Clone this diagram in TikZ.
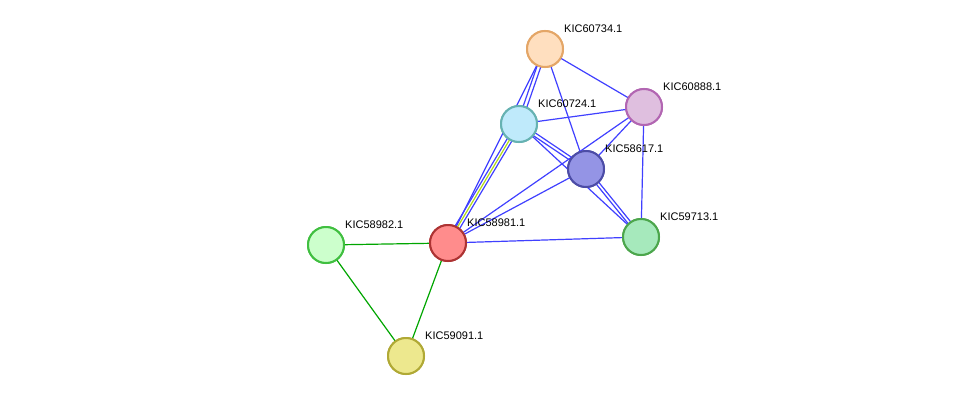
\documentclass[tikz,border=0pt]{standalone}
\usepackage{fontspec}
\setmainfont{Liberation Sans}
\begin{document}
\begin{tikzpicture}[x=1pt,y=-1pt,
  nd/.style={circle,minimum size=36pt,inner sep=0pt,line width=2pt},
  lb/.style={font=\fontsize{11}{11}\selectfont,anchor=south west,inner sep=0pt},
  be/.style={draw=blue!75!white,line width=1.2pt},
  ge/.style={draw=green!65!black,line width=1.2pt}]
\useasboundingbox[fill=white] (0,0) rectangle (976,402);
\node[nd,draw=brown!60!orange!70,fill=orange!25] (a) at (545,49) {};
\node[nd,draw=violet!60,fill=violet!25] (b) at (644,107) {};
\node[nd,draw=teal!60,fill=cyan!25] (c) at (519,124) {};
\node[nd,draw=blue!50!black!70,fill=blue!40!white!80!gray] (d) at (586,169) {};
\node[nd,draw=green!50!black!70,fill=green!50!teal!35] (e) at (641,237) {};
\node[nd,draw=red!60!black!80,fill=red!45] (f) at (448,243) {};
\node[nd,draw=green!50!gray,fill=green!20] (g) at (326,245) {};
\node[nd,draw=olive!70,fill=olive!40!yellow!40] (h) at (406,356) {};
\begin{scope}[on background layer/.try]
\end{scope}
\begin{pgfonlayer}{main}\end{pgfonlayer}
\draw[be] ([xshift=-2]a.center) -- ([xshift=-2]c.center);
\draw[be] ([xshift=2]a.center) -- ([xshift=2]c.center);
\draw[be] (a.center) -- (f.center);
\draw[be] (a.center) -- (b.center);
\draw[be] (a.center) -- (d.center);
\draw[be] (c.center) -- (b.center);
\draw[be] ([yshift=-2]c.center) -- ([yshift=-2]d.center);
\draw[be] ([yshift=2]c.center) -- ([yshift=2]d.center);
\draw[be] (c.center) -- (e.center);
\draw[be] ([xshift=-3]c.center) -- ([xshift=-3]f.center);
\draw[draw=yellow!70!green,line width=1.2pt] (c.center) -- (f.center);
\draw[be] ([xshift=3]c.center) -- ([xshift=3]f.center);
\draw[be] (b.center) -- (d.center);
\draw[be] (b.center) -- (f.center);
\draw[be] (b.center) -- (e.center);
\draw[be] (d.center) -- (f.center);
\draw[be] ([xshift=-2]d.center) -- ([xshift=-2]e.center);
\draw[be] ([xshift=2]d.center) -- ([xshift=2]e.center);
\draw[be] (f.center) -- (e.center);
\draw[ge] (f.center) -- (g.center);
\draw[ge] (f.center) -- (h.center);
\draw[ge] (g.center) -- (h.center);
\foreach \n in {a,b,c,d,e,f,g,h} \node[nd] at (\n) {};
\node[nd,draw=brown!60!orange!70,fill=orange!25] at (a) {};
\node[nd,draw=violet!60,fill=violet!25] at (b) {};
\node[nd,draw=teal!60,fill=cyan!25] at (c) {};
\node[nd,draw=blue!50!black!70,fill=blue!40!white!80!gray] at (d) {};
\node[nd,draw=green!50!black!70,fill=green!50!teal!35] at (e) {};
\node[nd,draw=red!60!black!80,fill=red!45] at (f) {};
\node[nd,draw=green!50!gray,fill=green!20] at (g) {};
\node[nd,draw=olive!70,fill=olive!40!yellow!40] at (h) {};
\node[lb] (la) at (564,33) {KIC60734.1};
\node[lb] (lb2) at (663,91) {KIC60888.1};
\node[lb] (lc) at (538,108) {KIC60724.1};
\node[lb] (ld) at (605,153) {KIC58617.1};
\node[lb] (le) at (660,221) {KIC59713.1};
\node[lb] (lf) at (467,227) {KIC58981.1};
\node[lb] (lg) at (345,229) {KIC58982.1};
\node[lb] (lh) at (425,340) {KIC59091.1};
\end{tikzpicture}
\end{document}
